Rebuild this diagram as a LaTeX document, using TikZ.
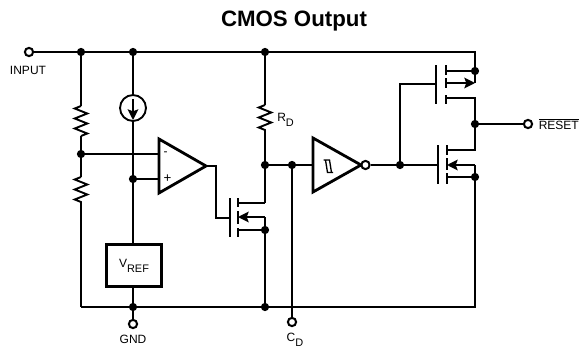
\documentclass[tikz,border=0pt]{standalone}
\usepackage{fontspec}
\setmainfont{Liberation Sans}
\usetikzlibrary{arrows.meta,decorations.pathmorphing}
\newcommand{\subtxt}[1]{\raisebox{-3.6pt}{\fontsize{8.2}{8.2}\selectfont #1}}
\tikzset{
    wire/.style={line width=1.4pt, line join=miter},
    block/.style={line width=2.1pt, line join=miter},
    dot/.style={circle, fill=black, inner sep=0pt, minimum size=6.2pt},
    term/.style={circle, draw, fill=white, line width=1.5pt, inner sep=0pt, minimum size=6.2pt},
    lbl/.style={font=\fontsize{9}{9}\selectfont, inner sep=0pt},
    res/.style={wire, decorate, decoration={zigzag, mirror, segment length=7.5pt, amplitude=4.7pt}},
    flow/.style={wire, -{Stealth[length=8pt,width=8pt,inset=1.5pt]}},
}
\begin{document}
\begin{tikzpicture}[x=0.75pt, y=-0.75pt]
    \useasboundingbox (0,0) rectangle (579,350);

    \node[font=\bfseries\fontsize{16.7}{16.7}\selectfont, inner sep=0pt] (title) at (294,21.5) {CMOS Output};

    % terminals and their labels
    \node[term] (input) at (29,52) {};
    \node[lbl] (inputlbl) at (28,70) {INPUT};
    \node[term] (gnd) at (133,324) {};
    \node[lbl] (gndlbl) at (133,339) {GND};
    \node[term] (cd) at (292,322) {};
    \node[lbl] (cdlbl) at (295,340) {C\subtxt{D}};
    \node[term] (reset) at (528,124) {};
    \node[lbl, anchor=west] (resetlbl) at (538.5,124.5) {$\overline{\mbox{RESET}}$};

    % junctions
    \node[dot] (top1) at (81,52) {};
    \node[dot] (top2) at (133,52) {};
    \node[dot] (top3) at (265,52) {};
    \node[dot] (div) at (81,154) {};
    \node[dot] (ref) at (133,179) {};
    \node[dot] (rd) at (265,165) {};
    \node[dot] (cdj) at (292,165) {};
    \node[dot] (gates) at (400,165) {};
    \node[dot] (out) at (475,124) {};
    \node[dot] (src1) at (475,71) {};
    \node[dot] (src2) at (475,177) {};
    \node[dot] (src3) at (265,230) {};
    \node[dot] (bot1) at (133,307) {};
    \node[dot] (bot2) at (265,307) {};

    \coordinate (railr) at (475,52);
    \coordinate (railb) at (475,307);
    \coordinate (raill) at (81,307);
    \draw[wire] (input) -- (top1) -- (top2) -- (top3) -- (railr) -- (475,83);
    \draw[wire] (raill) -- (bot1) -- (bot2) -- (railb) -- (475,165);

    % divider
    \coordinate (r1a) at (81,106);
    \coordinate (r1b) at (81,136);
    \coordinate (r2a) at (81,177);
    \coordinate (r2b) at (81,206);
    \draw[wire] (top1) -- (r1a);
    \draw[res] (r1a) -- (r1b);
    \draw[wire] (r1b) -- (div) -- (r2a);
    \draw[res] (r2a) -- (r2b);
    \draw[wire] (r2b) -- (raill);

    % current source and reference
    \node[circle, draw, wire, inner sep=0pt, minimum size=19.5pt] (isrc) at (133,108) {};
    \node[draw, block, inner sep=0pt, minimum width=41pt, minimum height=31pt, lbl] (vref) at (134,265.5) {V\subtxt{REF}};
    \draw[wire] (top2) -- (isrc);
    \draw[wire] (isrc) -- (ref) -- (133,244);
    \draw[wire] (133,287) -- (bot1) -- (gnd);
    \draw[flow] (133,99) -- (133,120);

    % comparator
    \coordinate (cmpm) at (159,154);
    \coordinate (cmpp) at (159,179);
    \coordinate (cmpo) at (206,166);
    \draw[block] (159,139) -- (cmpo) -- (159,193) -- cycle;
    \node[font=\fontsize{9}{9}\selectfont, inner sep=0pt] (minus) at (165.5,153.5) {-};
    \node[font=\fontsize{10}{10}\selectfont, inner sep=0pt] (plus) at (167.5,178.5) {+};
    \draw[wire] (div) -- (cmpm);
    \draw[wire] (ref) -- (cmpp);

    % lower left transistor
    \coordinate (g1) at (230,218);
    \draw[wire] (cmpo) -- (216,166) -- (216,218) -- (g1);
    \draw[wire] (230,198) -- (230,237);
    \foreach \a/\b in {198/207, 211/224, 228/237}
        \draw[wire] (238,\a) -- (238,\b);
    \draw[wire] (238,203) -- (265,203);
    \draw[wire] (238,230) -- (src3);
    \draw[flow] (265,217) -- (238,217);
    \coordinate (rda) at (265,105);
    \coordinate (rdb) at (265,134);
    \draw[wire] (top3) -- (rda);
    \draw[res] (rda) -- (rdb);
    \draw[wire] (rdb) -- (rd) -- (265,203);
    \draw[wire] (265,217) -- (src3) -- (bot2);
    \node[lbl, anchor=west] (rdlbl) at (277,120) {R\subtxt{D}};

    % inverter
    \coordinate (invi) at (313,165);
    \coordinate (invo) at (361,165);
    \draw[block] (313,138) -- (invo) -- (313,192) -- cycle;
    \draw[line width=1pt] (323.5,160) -- (329.5,160) -- (331.5,172.5) (325.5,160) -- (327.5,172.5) -- (333,172.5);
    \node[term] (bub) at (365.5,165) {};
    \draw[wire] (rd) -- (cdj) -- (invi);
    \draw[wire] (cdj) -- (cd);
    \draw[wire] (bub) -- (gates);

    % output stage
    \coordinate (g2) at (436,84);
    \coordinate (g3) at (438,165);
    \draw[wire] (gates) -- (g3);
    \draw[wire] (gates) -- (400,84) -- (g2);
    \draw[wire] (436,65) -- (436,104);
    \draw[wire] (438,145) -- (438,184);
    \foreach \a/\b in {65/75, 78/88, 95/104}
        \draw[wire] (446,\a) -- (446,\b);
    \foreach \a/\b in {145/155, 158/170, 173/184}
        \draw[wire] (447,\a) -- (447,\b);
    \draw[wire] (446,71) -- (src1);
    \draw[flow] (446,83) -- (475,83);
    \draw[wire] (446,98) -- (475,98) -- (out) -- (475,150) -- (447,150);
    \draw[flow] (475,165) -- (447,165);
    \draw[wire] (447,177) -- (src2);
    \draw[wire] (out) -- (reset);

\end{tikzpicture}
\end{document}
